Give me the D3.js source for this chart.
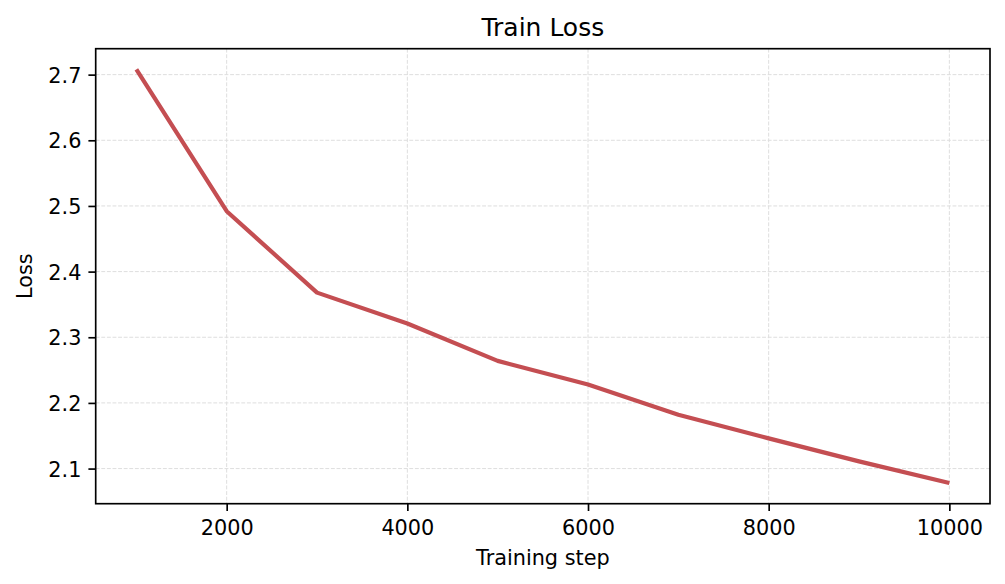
<!DOCTYPE html>
<html>
<head>
<meta charset="utf-8">
<script src="https://cdn.jsdelivr.net/npm/d3@7"></script>
<style>
  html, body { margin: 0; padding: 0; background: #fff; }
  svg { display: block; font-family: "DejaVu Sans", sans-serif; }
</style>
</head>
<body>
<svg id="chart" width="1005" height="584"></svg>
<script>
// data
const steps = [1000, 2000, 3000, 4000, 5000, 6000, 7000, 8000, 9000, 10000];
const loss = [2.708, 2.492, 2.368, 2.321, 2.264, 2.228, 2.182, 2.146, 2.111, 2.078];
const xTicks = [2000, 4000, 6000, 8000, 10000];
const yTicks = [2.1, 2.2, 2.3, 2.4, 2.5, 2.6, 2.7];

const W = 1005, H = 584;
const margin = {top: 48.7, right: 15, bottom: 80.3, left: 95.7};
const width = W - margin.left - margin.right;
const height = H - margin.top - margin.bottom;

const svg = d3.select("#chart");
const g = svg.append("g")
  .attr("transform", "translate(" + margin.left + "," + margin.top + ")");

// matplotlib style 5% padding
function padded(ext) {
  const d = ext[1] - ext[0];
  return [ext[0] - d * 0.05, ext[1] + d * 0.05];
}

const x = d3.scaleLinear()
  .domain(padded(d3.extent(steps)))
  .range([0, width]);

const y = d3.scaleLinear()
  .domain(padded(d3.extent(loss)))
  .range([height, 0]);

// grid
g.append("g")
  .selectAll("line.gx")
  .data(xTicks)
  .join("line")
    .attr("x1", d => x(d)).attr("x2", d => x(d))
    .attr("y1", 0).attr("y2", height)
    .attr("stroke", "#dedede")
    .attr("stroke-width", 1)
    .attr("stroke-dasharray", "3.9,1.7");

g.append("g")
  .selectAll("line.gy")
  .data(yTicks)
  .join("line")
    .attr("y1", d => y(d)).attr("y2", d => y(d))
    .attr("x1", 0).attr("x2", width)
    .attr("stroke", "#dedede")
    .attr("stroke-width", 1)
    .attr("stroke-dasharray", "3.9,1.7");

// the line
g.append("path")
  .datum(steps.map((s, i) => [s, loss[i]]))
  .attr("fill", "none")
  .attr("stroke", "#c44e52")
  .attr("stroke-width", 4.2)
  .attr("stroke-linejoin", "round")
  .attr("d", d3.line()
    .x(d => x(d[0]))
    .y(d => y(d[1])));

// axes
const xAxis = g.append("g")
  .attr("transform", "translate(0," + height + ")")
  .call(d3.axisBottom(x).tickValues(xTicks).tickFormat(d3.format("d"))
    .tickSize(7.3).tickPadding(9.5).tickSizeOuter(0));

const yAxis = g.append("g")
  .call(d3.axisLeft(y).tickValues(yTicks).tickFormat(d3.format(".1f"))
    .tickSize(7.3).tickPadding(7).tickSizeOuter(0));

[xAxis, yAxis].forEach(a => {
  a.select(".domain").remove();
  a.selectAll(".tick line").attr("stroke", "#000").attr("stroke-width", 1.67);
  a.selectAll(".tick text")
    .attr("fill", "#000")
    .style("font-size", "20.8px")
    .style("font-family", "DejaVu Sans");
});
yAxis.selectAll(".tick text").attr("dy", "0.36em");

// frame
g.append("rect")
  .attr("x", 0).attr("y", 0)
  .attr("width", width).attr("height", height)
  .attr("fill", "none")
  .attr("stroke", "#000")
  .attr("stroke-width", 1.67);

// labels
svg.append("text")
  .attr("x", margin.left + width / 2)
  .attr("y", 36)
  .attr("text-anchor", "middle")
  .style("font-size", "25px")
  .text("Train Loss");

svg.append("text")
  .attr("x", margin.left + width / 2)
  .attr("y", 565)
  .attr("text-anchor", "middle")
  .style("font-size", "20.8px")
  .text("Training step");

svg.append("text")
  .attr("transform", "translate(32," + (margin.top + height / 2) + ") rotate(-90)")
  .attr("text-anchor", "middle")
  .style("font-size", "20.8px")
  .text("Loss");
</script>
</body>
</html>
